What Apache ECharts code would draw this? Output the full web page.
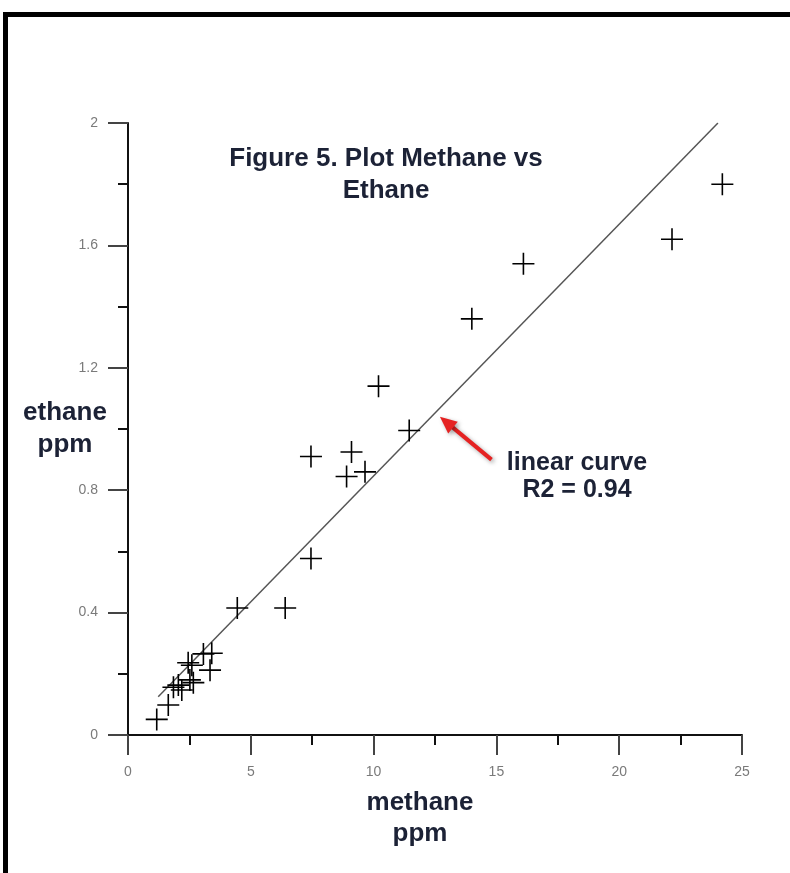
<!DOCTYPE html>
<html><head><meta charset="utf-8">
<script src="https://cdn.jsdelivr.net/npm/echarts@6/dist/echarts.min.js"></script>
<style>html,body{margin:0;padding:0;background:#fff}#c{width:790px;height:873px}</style>
</head><body><div id="c"></div>
<script>
// ---- data ----
const methane = [24.2, 22.15, 16.1, 14.0, 10.2, 11.45, 7.45, 9.1, 8.9, 9.65, 7.45, 4.45, 6.4,
                 3.41, 3.07, 3.34, 2.45, 2.6, 2.52, 2.66, 2.19, 1.85, 2.05, 1.64, 1.17];
const ethane  = [1.80, 1.62, 1.54, 1.36, 1.14, 0.995, 0.91, 0.925, 0.845, 0.86, 0.577, 0.415, 0.415,
                 0.267, 0.265, 0.212, 0.236, 0.228, 0.180, 0.171, 0.147, 0.156, 0.163, 0.098, 0.051];
const fitMethane = [1.23, 24.02];
const fitEthane  = [0.125, 2.0];
const xTicks = [0, 5, 10, 15, 20, 25];
const yTicks = [0, 0.4, 0.8, 1.2, 1.6, 2];
const titleLines = ['Figure 5. Plot Methane vs', 'Ethane'];
const xNameLines = ['methane', 'ppm'];
const yNameLines = ['ethane', 'ppm'];
const noteLines = ['linear curve', 'R2 = 0.94'];
const arrowTip = [12.7, 1.04];
const arrowTail = [14.8, 0.9];

const boldFont = "'Liberation Sans', Arial, sans-serif";
const tickFont = "'Liberation Sans Narrow', 'Arial Narrow', 'Liberation Sans', sans-serif";
const navy = '#1c2236';
const cross = 'path://M0,10.2H22V11.8H0Z M10.2,0H11.8V22H10.2Z';

const chart = echarts.init(document.getElementById('c'), null, {renderer: 'canvas'});

function axisCommon(ticks) {
  return {
    type: 'value',
    min: ticks[0], max: ticks[ticks.length - 1], interval: ticks[1] - ticks[0],
    axisLine: {show: true, onZero: false, lineStyle: {color: '#111', width: 2}},
    axisTick: {show: true, inside: false, length: 20, lineStyle: {color: '#444', width: 2}},
    minorTick: {show: true, splitNumber: 2, length: 10, lineStyle: {color: '#111', width: 2}},
    splitLine: {show: false},
    minorSplitLine: {show: false},
    axisLabel: {margin: 30, color: '#7a7a7a', fontSize: 14, fontFamily: tickFont}
  };
}

const nameStyle = {fontSize: 26, fontWeight: 'bold', fontFamily: boldFont, color: navy, align: 'center', verticalAlign: 'middle'};

const option = {
  animation: false,
  backgroundColor: '#fff',
  title: {
    text: titleLines.join('\n'),
    left: 386, top: 143, textAlign: 'center', padding: 0,
    textStyle: {fontSize: 26, fontWeight: 'bold', fontFamily: boldFont, color: navy, lineHeight: 32, align: 'center'}
  },
  grid: {left: 128, right: 48, top: 123, bottom: 138, containLabel: false, outerBoundsMode: 'none'},
  xAxis: Object.assign(axisCommon(xTicks), {
    name: xNameLines.join('\n'), nameLocation: 'middle', nameGap: 83, nameMoveOverlap: false,
    nameTextStyle: Object.assign({}, nameStyle, {lineHeight: 31, padding: [0, 30, 0, 0]})
  }),
  yAxis: Object.assign(axisCommon(yTicks), {
    name: yNameLines.join('\n'), nameLocation: 'middle', nameGap: 63, nameRotate: 0, nameMoveOverlap: false,
    nameTextStyle: Object.assign({}, nameStyle, {lineHeight: 32})
  }),
  series: [
    {
      type: 'line', data: fitMethane.map((x, i) => [x, fitEthane[i]]),
      showSymbol: false, symbol: 'none', lineStyle: {color: '#555', width: 1.5}, z: 1, silent: true
    },
    {
      type: 'scatter', data: methane.map((x, i) => [x, ethane[i]]),
      symbol: cross, symbolSize: 22, symbolKeepAspect: true,
      itemStyle: {color: '#000', opacity: 1}, z: 2
    }
  ],
  graphic: []
};
chart.setOption(option);

// annotation arrow anchored in data coordinates
const tip = chart.convertToPixel({gridIndex: 0}, arrowTip);
const tail = chart.convertToPixel({gridIndex: 0}, arrowTail);
const dx = tip[0] - tail[0], dy = tip[1] - tail[1];
const L = Math.sqrt(dx * dx + dy * dy);
const ux = dx / L, uy = dy / L;
const headLen = 17, headHalf = 7.5;
const bx = tip[0] - ux * headLen, by = tip[1] - uy * headLen;
const px = -uy, py = ux;
const red = '#e52222';
const shadow = {shadowBlur: 4, shadowColor: 'rgba(0,0,0,0.35)', shadowOffsetX: 2, shadowOffsetY: 2};

chart.setOption({
  graphic: [
    {type: 'rect', shape: {x: 3, y: 12, width: 787, height: 5}, style: {fill: '#000'}, z: 100},
    {type: 'rect', shape: {x: 3, y: 12, width: 5, height: 861}, style: {fill: '#000'}, z: 100},
    {type: 'line', shape: {x1: tail[0], y1: tail[1], x2: bx + ux * 2, y2: by + uy * 2},
     style: Object.assign({stroke: red, lineWidth: 4}, shadow), z: 50},
    {type: 'polygon', shape: {points: [[tip[0], tip[1]], [bx + px * headHalf, by + py * headHalf], [bx - px * headHalf, by - py * headHalf]]},
     style: Object.assign({fill: red}, shadow), z: 51},
    {type: 'text', x: 577, y: 477,
     style: {text: noteLines.join('\n'), font: 'bold 25px ' + boldFont, fill: navy, align: 'center', verticalAlign: 'middle', lineHeight: 27},
     z: 52}
  ]
});
</script></body></html>
